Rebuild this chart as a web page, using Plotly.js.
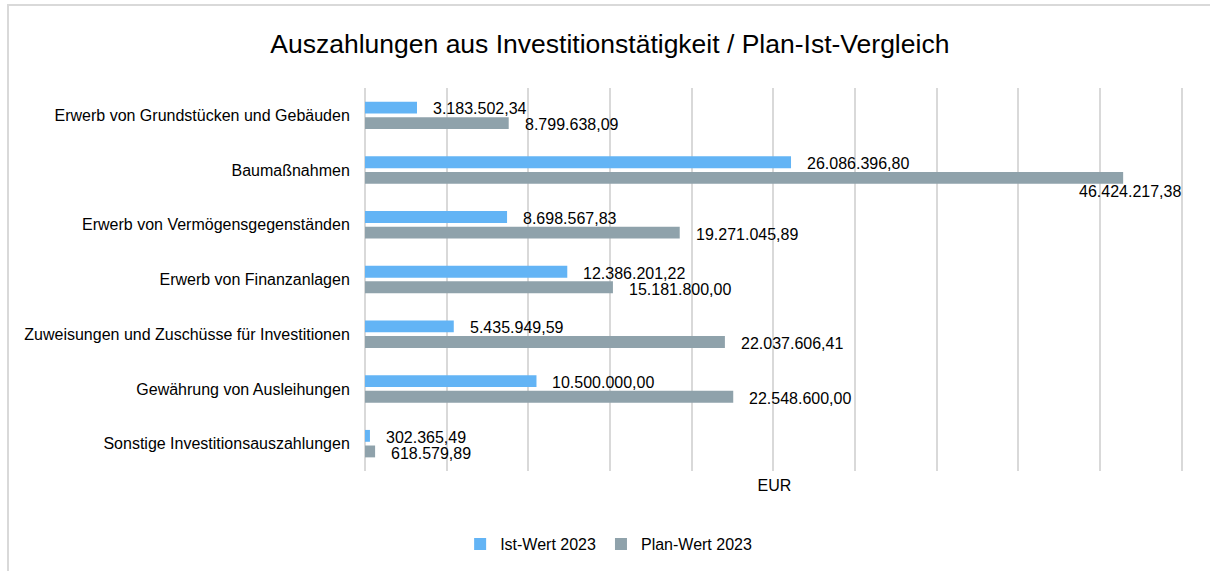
<!DOCTYPE html>
<html>
<head>
<meta charset="utf-8">
<script src="https://cdn.plot.ly/plotly-3.0.1.min.js"></script>
<style>
  html, body { margin: 0; padding: 0; background: #ffffff; }
  #wrap { position: relative; width: 1210px; height: 571px; overflow: hidden; }
  #frame { position: absolute; left: 7px; top: 4px; width: 1300px; height: 700px;
           border-left: 2px solid #d9d9d9; border-top: 2px solid #d9d9d9; box-sizing: border-box; }
  #chart { position: absolute; left: 0; top: 0; width: 1210px; height: 571px; }
</style>
</head>
<body>
<div id="wrap">
  <div id="frame"></div>
  <div id="chart"></div>
</div>
<script>
const categories = [
  "Erwerb von Grundstücken und Gebäuden",
  "Baumaßnahmen",
  "Erwerb von Vermögensgegenständen",
  "Erwerb von Finanzanlagen",
  "Zuweisungen und Zuschüsse für Investitionen",
  "Gewährung von Ausleihungen",
  "Sonstige Investitionsauszahlungen"
];
const istValues = [3183502.34, 26086396.80, 8698567.83, 12386201.22, 5435949.59, 10500000.00, 302365.49];
const planValues = [8799638.09, 46424217.38, 19271045.89, 15181800.00, 22037606.41, 22548600.00, 618579.89];
const seriesNames = ["Ist-Wert 2023", "Plan-Wert 2023"];
const xMax = 50000000;
const xStep = 5000000;

function fmtDE(v) {
  const fixed = v.toFixed(2);
  const parts = fixed.split(".");
  const intPart = parts[0].replace(/\B(?=(\d{3})+(?!\d))/g, ".");
  return intPart + "," + parts[1];
}

const FONT = "Liberation Sans, Arial, sans-serif";
const blue = "#63b4f5";
const gray = "#8fa2ab";
const TXT = 16;

const traces = [
  { type: "bar", orientation: "h", name: seriesNames[0], y: categories, x: istValues,
    marker: { color: blue }, hoverinfo: "x" },
  { type: "bar", orientation: "h", name: seriesNames[1], y: categories, x: planValues,
    marker: { color: gray }, hoverinfo: "x" }
];

const annotations = [];
function addLabels(values, shiftY) {
  values.forEach((v, i) => {
    const tooFar = v > 0.85 * xMax;
    annotations.push({
      x: v, y: categories[i], xref: "x", yref: "y",
      text: fmtDE(v), showarrow: false,
      xanchor: tooFar ? "center" : "left",
      yanchor: "middle",
      xshift: tooFar ? 7 : 14,
      yshift: tooFar ? shiftY - 13 : shiftY - 1.5,
      font: { family: FONT, size: TXT, color: "#000000" }
    });
  });
}
addLabels(istValues, 8);
addLabels(planValues, -8);

const layout = {
  width: 1210, height: 571,
  paper_bgcolor: "rgba(0,0,0,0)",
  plot_bgcolor: "rgba(0,0,0,0)",
  margin: { l: 365, r: 25.5, t: 88, b: 100 },
  font: { family: FONT, color: "#000000" },
  title: {
    text: "Auszahlungen aus Investitionstätigkeit / Plan-Ist-Vergleich",
    font: { family: FONT, size: 26.5, color: "#000000" },
    x: 0.504, xanchor: "center", y: 1 - 44 / 571, yanchor: "middle"
  },
  barmode: "group",
  bargap: 0.43,
  bargroupgap: 0.24,
  xaxis: {
    range: [0, xMax * 1.003], dtick: xStep, tick0: 0,
    showticklabels: false, ticks: "",
    showgrid: true, gridcolor: "#d9d9d9", gridwidth: 2,
    zeroline: true, zerolinecolor: "#d9d9d9", zerolinewidth: 2,
    showline: false,
    title: { text: "EUR", font: { family: FONT, size: TXT, color: "#000000" }, standoff: 8 },
    fixedrange: true
  },
  yaxis: {
    autorange: "reversed",
    type: "category",
    ticks: "outside", ticklen: 11, tickcolor: "rgba(0,0,0,0)",
    tickfont: { family: FONT, size: TXT, color: "#000000" },
    showgrid: false, zeroline: false, showline: false,
    fixedrange: true
  },
  legend: {
    orientation: "h",
    x: 0.503, xanchor: "center", xref: "container",
    y: 1 - 544 / 571, yanchor: "middle", yref: "container",
    font: { family: FONT, size: TXT, color: "#000000" },
    traceorder: "normal",
    itemwidth: 30
  },
  annotations: annotations,
  showlegend: true
};

Plotly.newPlot("chart", traces, layout, { displayModeBar: false, staticPlot: true });
</script>
</body>
</html>
